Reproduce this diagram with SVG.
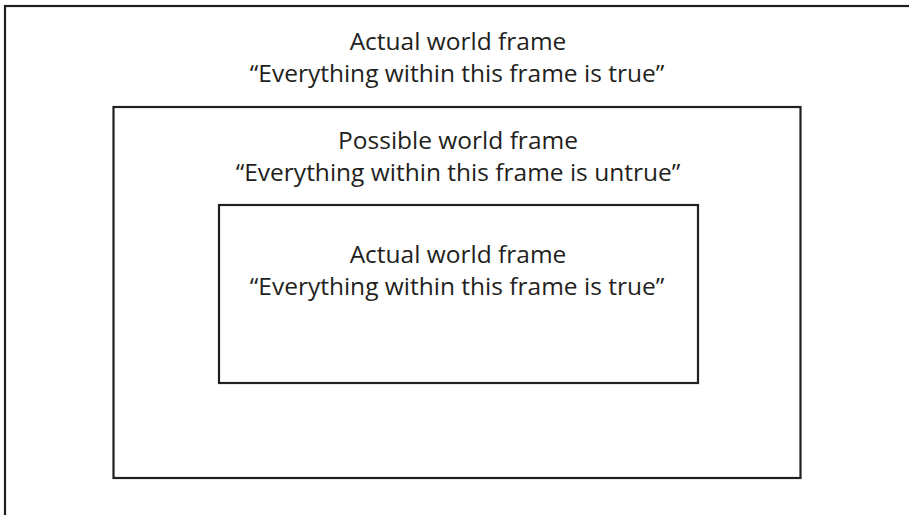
<svg xmlns="http://www.w3.org/2000/svg" width="909" height="515" viewBox="0 0 909 515">
<style>
.f{fill:none;stroke:#231f20;stroke-width:2.2}
text{font-family:"Open Sans","DejaVu Sans",sans-serif;font-size:24.5px;fill:#231f20;text-anchor:middle}
</style>
<rect width="909" height="515" fill="#fff"/>
<g id="outer">
<rect class="f" x="5" y="6" width="920" height="530"/>
<text x="458" y="50">Actual world frame</text>
<text x="457" y="82">“Everything within this frame is true”</text>
</g>
<g id="possible">
<rect class="f" x="113.5" y="107" width="687" height="371"/>
<text x="458" y="149">Possible world frame</text>
<text x="458" y="181">“Everything within this frame is untrue”</text>
</g>
<g id="inner">
<rect class="f" x="219" y="205" width="479" height="178"/>
<text x="458" y="263">Actual world frame</text>
<text x="457" y="295">“Everything within this frame is true”</text>
</g>
<g id="connectors"/>
</svg>
